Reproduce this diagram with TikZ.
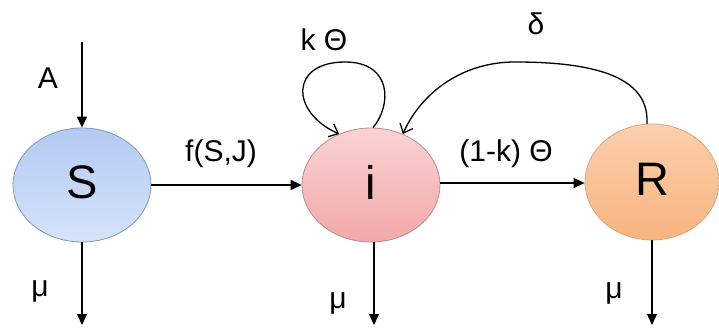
\documentclass[tikz,border=0pt]{standalone}
\usepackage{fontspec}
\setmainfont{Liberation Sans}
\usetikzlibrary{shapes.geometric,arrows.meta}
\definecolor{sfilltop}{HTML}{B3CAF2}
\definecolor{sfillbot}{HTML}{D6E3FA}
\definecolor{sline}{HTML}{8196B8}
\definecolor{ifilltop}{HTML}{FAD3D3}
\definecolor{ifillbot}{HTML}{F3A8AA}
\definecolor{iline}{HTML}{B88A8A}
\definecolor{rfilltop}{HTML}{FBD0AE}
\definecolor{rfillbot}{HTML}{F7B47E}
\definecolor{rline}{HTML}{D8A57C}
\begin{document}
\begin{tikzpicture}[x=1pt,y=-1pt,
  state/.style={ellipse,minimum width=138pt,minimum height=114pt,inner sep=0pt,line width=0.8pt,
     font=\fontsize{47}{47}\selectfont},
  lbl/.style={font=\fontsize{30}{30}\selectfont,inner sep=0pt},
  flow/.style={line width=1.3pt,-{Triangle[length=11pt,width=10pt]}},
  curvy/.style={line width=1.3pt,-{Straight Barb[length=8pt,width=14pt,line width=1.3pt]}}]
\useasboundingbox (0,0) rectangle (719,334);
\node[state,draw=sline,top color=sfilltop,bottom color=sfillbot] (S) at (82,185) {\raisebox{5pt}{S}};
\node[state,draw=iline,top color=ifilltop,bottom color=ifillbot] (I) at (371,185) {\raisebox{5pt}{i}};
\node[state,draw=rline,top color=rfilltop,bottom color=rfillbot,minimum width=134pt,minimum height=116pt] (R) at (652,182) {\raisebox{5pt}{R}};
\coordinate (Ain) at (82,42);
\coordinate (Sout) at (82,325);
\coordinate (Iout) at (374,325);
\coordinate (Rout) at (652,325);
\draw[flow] (Ain) -- (S.north);
\draw[flow] (S.south) -- (Sout);
\draw[flow] (I.south -| Iout) -- (Iout);
\draw[flow] (R.south) -- (Rout);
\draw[flow] (S.east) -- (I.west);
\draw[flow] (I.east |- 0,183) -- (R.west |- 0,183);
\draw[curvy] (I.88) .. controls (392,105) and (392,62) .. (345,62) .. controls (290,62) and (290,112) .. (I.122);
\draw[curvy] (R.95) .. controls (650,75) and (590,62) .. (515,62) .. controls (460,62) and (420,95) .. (I.58);
\node[lbl] (lA) at (48,78) {A};
\node[lbl] (lf) at (221,154) {f(S,J)};
\node[lbl] (lk) at (324,40) {k Θ};
\node[lbl] (ld) at (536,24) {δ};
\node[lbl] (l1k) at (506,154) {(1-k) Θ};
\node[lbl] (m1) at (40,291) {μ};
\node[lbl] (m2) at (338,303) {μ};
\node[lbl] (m3) at (614,293) {μ};
\end{tikzpicture}
\end{document}
